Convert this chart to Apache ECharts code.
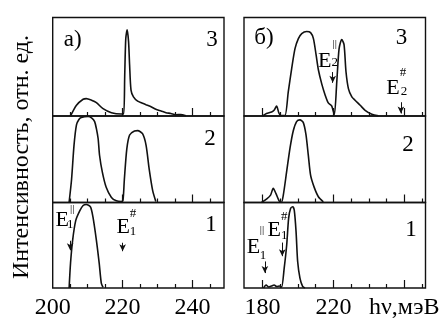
<!DOCTYPE html>
<html><head><meta charset="utf-8">
<script src="https://cdn.jsdelivr.net/npm/echarts@6/dist/echarts.min.js"></script>
<style>html,body{margin:0;padding:0;background:#fff}#c{width:444px;height:328px}</style>
</head><body><div id="c"></div>
<script>
// ---------- data (photon energy, meV ; intensity, rel. units) ----------
// panel а), spectrum 3
const a3E = [205.1,206.8,208.7,209.6,211.1,212.5,214.4,216.8,219.6,220.3,220.6,220.9,221.3,221.7,222.0,222.4,223.1,224.3,225.5,226.7,228.0,229.5,231.0,232.4,233.8,235.2,236.6,238.1];
const a3I = [0,10.7,16.7,17.3,15.7,13.3,7.3,3.3,2,2,40,77,85.7,74,50.7,25.7,19,14.7,13,11.3,9.5,6.7,5,3.3,2.5,1.3,1.5,0.3];
// panel а), spectrum 2
const a2E = [204.7,205.4,206.1,206.8,207.5,208.2,210.1,211.2,212.0,212.5,213.0,213.4,214.2,215.3,216.8,218.2,219.6,220.1,220.5,221.2,222.0,223.4,224.3,225.7,226.7,227.6,228.6,229.5];
const a2I = [0.5,23,56.7,76.7,82,84,85,83.5,80,73,63,46.7,30,15,5,1.7,1,2,23,53,66.7,70.7,71,68,56.7,33,11.7,1];
// panel а), spectrum 1
const a1E = [204.7,205.1,205.7,206.6,207.8,208.7,209.6,210.8,211.5,212.5,213.3,213.9,214.4];
const a1I = [0,25,48,68,78,83,84,81.7,71.7,48,25,5,0.7];
// panel б), spectrum 3
const b3E = [180,182.2,185.1,186.6,187.9,189.2,190.2,192.6,194.5,196.4,198.3,200.2,202.1,204.9,207.1,208.7,210.2,211.5,213.4,215.3,217.1,219.0,220.5,221.9,223.2,224.7,226.0,227.1,228.5,230.4,232.2,235.1,237.9,241.7,245.4];
const b3I = [0,2.5,4,6,10,3,0.5,0.5,24,47,67,77,82,84,83,77,61,46,32,21,13,10,1.3,34,67,76,71,44,27,19,15.7,10.7,5.7,1.7,0.3];
// panel б), spectrum 2
const b2E = [179.4,182.2,184.5,186.0,187.5,189.4,190.6,191.7,193.6,195.5,197.3,199.2,201.1,203.0,204.5,205.8,207.1,209.0,211.5,214.3];
const b2I = [0,3.3,7.3,14,9,1.3,0,7.3,30.7,54,70.7,80,81.7,79,67,47,27,15.7,5.7,0.7];
// panel б), spectrum 1
const b1E = [180.5,182,183.5,185,186.5,188,189.5,190.7,192.2,193.6,194.7,195.8,197.0,197.9,198.9,199.8,201.1,202.6,203.9];
const b1I = [0,3,1,2,3,1.5,2,0.7,20,43,70,80,81.7,78,56.7,26.7,10,1.7,0];

// axes
const rangeA = [200, 249];
const rangeB = [169.5, 272];
const majorA = [220, 240];
const minorA = [205, 210, 215, 225, 230, 235, 245];
const labelsA = [200, 220, 240];
const majorB = [180, 220, 260];
const minorB = [190, 200, 210, 230, 240, 250, 270];
const labelsB = [180, 220, 260];
const unitLabel = 'hν,мэВ';
const yTitle = 'Интенсивность, отн. ед.';
const rowNames = ['3', '2', '1'];
const panelNames = ['а)', 'б)'];

// transition markers: energy, arrow start / end intensity, name parts
const arrowsA1 = [{e:205, y1:47.5, y2:38, sup:'||', sub:'1'}, {e:220, y1:45.5, y2:37, sup:'#', sub:'1'}];
const arrowsB3 = [{e:219.6, y1:43.7, y2:33, sup:'||', sub:'2'}, {e:258.1, y1:13.7, y2:2.5, sup:'#', sub:'2'}];
const arrowsB1 = [{e:181.3, y1:26.7, y2:15, sup:'||', sub:'1'}, {e:191.1, y1:45.7, y2:32, sup:'#', sub:'1'}];

// ---------- layout ----------
const FONT = "'Liberation Serif', 'DejaVu Serif', serif";
const rowTop = [17.5, 116, 202.5];
const rowH = [98.5, 86.5, 85.5];
const rowMax = [98, 85.5, 86];
const colLeft = [52.7, 244];
const colW = [171.3, 181.5];

const curves = [[a3E,a3I],[a2E,a2I],[a1E,a1I],[b3E,b3I],[b2E,b2I],[b1E,b1I]];
const arrowsByGrid = {2: arrowsA1, 3: arrowsB3, 5: arrowsB1};

const grids = [], xAxes = [], yAxes = [], series = [];
for (let c = 0; c < 2; c++) {
  for (let r = 0; r < 3; r++) {
    const g = c * 3 + r;
    grids.push({left: colLeft[c], top: rowTop[r], width: colW[c], height: rowH[r],
      show: true, borderColor: '#111', borderWidth: 1.4, backgroundColor: 'transparent'});
    const range = c === 0 ? rangeA : rangeB;
    const major = c === 0 ? majorA : majorB;
    const minor = c === 0 ? minorA : minorB;
    const labels = c === 0 ? labelsA : labelsB;
    const bottom = r === 2;
    xAxes.push({type: 'value', gridIndex: g, min: range[0], max: range[1], position: 'bottom',
      axisLine: {show: false}, splitLine: {show: false},
      axisTick: {show: true, inside: true, length: 8, customValues: major, lineStyle: {color: '#111', width: 1.2}},
      axisLabel: {show: bottom, customValues: labels, margin: 8, color: '#000', fontFamily: FONT, fontSize: 24,
        formatter: v => (c === 1 && v === 260) ? unitLabel : String(v)}});
    xAxes.push({type: 'value', gridIndex: g, min: range[0], max: range[1], position: 'bottom',
      axisLine: {show: false}, splitLine: {show: false},
      axisTick: {show: true, inside: true, length: 4, customValues: minor, lineStyle: {color: '#111', width: 1.2}},
      axisLabel: {show: false}});
    yAxes.push({type: 'value', gridIndex: g, min: 0, max: rowMax[r], show: false});
    const [E, I] = curves[g];
    const s = {type: 'line', xAxisIndex: 2 * g, yAxisIndex: g, data: E.map((e, i) => [e, I[i]]),
      showSymbol: false, smooth: 0.25, lineStyle: {color: '#111', width: 1.6}, silent: true, animation: false};
    const arr = arrowsByGrid[g];
    if (arr) {
      s.markLine = {silent: true, symbol: ['none', 'arrow'], symbolSize: [5, 7], animation: false,
        label: {show: false}, lineStyle: {color: '#111', width: 1, type: 'solid'},
        data: arr.map(a => [{coord: [a.e, a.y1]}, {coord: [a.e, a.y2]}])};
    }
    series.push(s);
  }
}

const chart = echarts.init(document.getElementById('c'), null, {renderer: 'canvas'});
chart.setOption({backgroundColor: '#fff', animation: false, textStyle: {fontFamily: FONT},
  grid: grids, xAxis: xAxes, yAxis: yAxes, series});

function txt(x, y, t, size, extra) {
  return Object.assign({type: 'text', x, y, silent: true,
    style: {text: t, fill: '#000', fontSize: size, fontFamily: FONT,
      textAlign: 'center', textVerticalAlign: 'middle', align: 'center', verticalAlign: 'middle'}}, extra || {});
}
const gfx = [];
gfx.push(txt(22, 157, yTitle, 24, {rotation: Math.PI / 2}));
// panel & row names, positioned relative to each grid box
const rowOff = [[[-12, 22], [-14, 22.5], [-13, 22.5]], [[-24, 20], [-17.5, 28.5], [-14.5, 27.5]]];
for (let c = 0; c < 2; c++) {
  gfx.push(txt(colLeft[c] + 20, rowTop[0] + (c === 0 ? 22.5 : 20), panelNames[c], 23));
  for (let r = 0; r < 3; r++) {
    const o = rowOff[c][r];
    gfx.push(txt(colLeft[c] + colW[c] + o[0], rowTop[r] + o[1], rowNames[r], 23));
  }
}
// transition labels next to arrows
const lblOff = {
  2: [{E: [-8, -21], sup: [2, -32], sub: [0, -16]}, {E: [0.5, -16], sup: [10.5, -29], sub: [10.5, -11]}],
  3: [{E: [-8, -11], sup: [2, -27.5], sub: [2, -9]}, {E: [-8, -14], sup: [2, -29.5], sub: [3, -11]}],
  5: [{E: [-11.5, -14.5], sup: [-3, -31], sub: [-2, -6]}, {E: [-8, -12], sup: [2, -26], sub: [2, -6.5]}]
};
Object.keys(arrowsByGrid).forEach(k => {
  const g = +k;
  arrowsByGrid[g].forEach((a, i) => {
    const p = chart.convertToPixel({xAxisIndex: 2 * g, yAxisIndex: g}, [a.e, a.y1]);
    const o = lblOff[g][i];
    gfx.push(txt(p[0] + o.E[0], p[1] + o.E[1], 'E', 22));
    gfx.push(txt(p[0] + o.sup[0], p[1] + o.sup[1], a.sup, a.sup === '#' ? 13 : 11));
    gfx.push(txt(p[0] + o.sub[0], p[1] + o.sub[1], a.sub, 13));
  });
});
chart.setOption({graphic: gfx});
</script></body></html>
